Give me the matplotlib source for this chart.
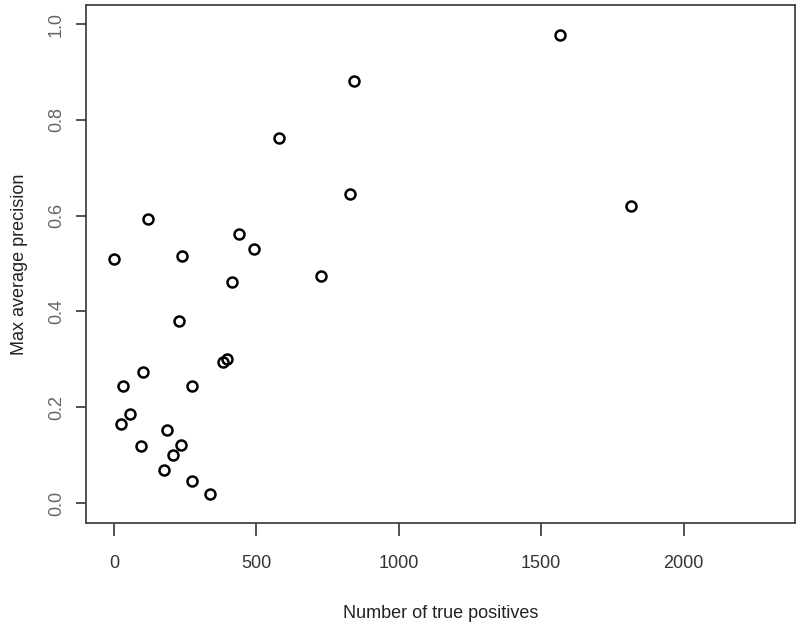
import matplotlib
matplotlib.use("Agg")
import matplotlib.pyplot as plt
import numpy as np

# number of true positives vs max average precision
true_pos = [1, 118, 240, 440, 492, 413, 580, 727, 828, 844, 1567, 1816,
            227, 384, 396, 101, 33, 274, 55, 26, 187, 95, 235, 206, 176, 274, 338]
max_ap = [0.509, 0.593, 0.516, 0.561, 0.531, 0.461, 0.762, 0.475, 0.645, 0.881, 0.977, 0.620,
          0.381, 0.294, 0.300, 0.273, 0.244, 0.244, 0.186, 0.166, 0.153, 0.119, 0.122, 0.101,
          0.069, 0.045, 0.019]

x_ticks = [0, 500, 1000, 1500, 2000]
y_ticks = [0.0, 0.2, 0.4, 0.6, 0.8, 1.0]

plt.rcParams['font.family'] = ['Liberation Sans', 'DejaVu Sans']

fig = plt.figure(figsize=(8, 6.27), dpi=100)
ax = fig.add_axes([0.108, 0.1664, 0.886, 0.8256])

ax.plot(true_pos, max_ap, linestyle='none', marker='o', markersize=7.2,
        markerfacecolor='none', markeredgecolor='black', markeredgewidth=1.8)

ax.set_xlim(-97, 2392)
ax.set_ylim(-0.041, 1.0397)

ax.set_xticks(x_ticks)
ax.set_xticklabels([str(v) for v in x_ticks], fontsize=13, color='#333333')
ax.set_yticks(y_ticks)
ax.set_yticklabels([f"{v:.1f}" for v in y_ticks], fontsize=13, color='#666666',
                   rotation=90, va='center')

ax.tick_params(axis='x', length=9, width=1.2, color='#333333', pad=14)
ax.tick_params(axis='y', length=7.5, width=1.2, color='#333333', pad=8)

for sp in ax.spines.values():
    sp.set_color('#444444')
    sp.set_linewidth(1.3)

ax.set_xlabel("Number of true positives", fontsize=13, color='#222222', labelpad=24)
ax.set_ylabel("Max average precision", fontsize=13, color='#222222', labelpad=14)

fig.savefig("out.png", dpi=100)
